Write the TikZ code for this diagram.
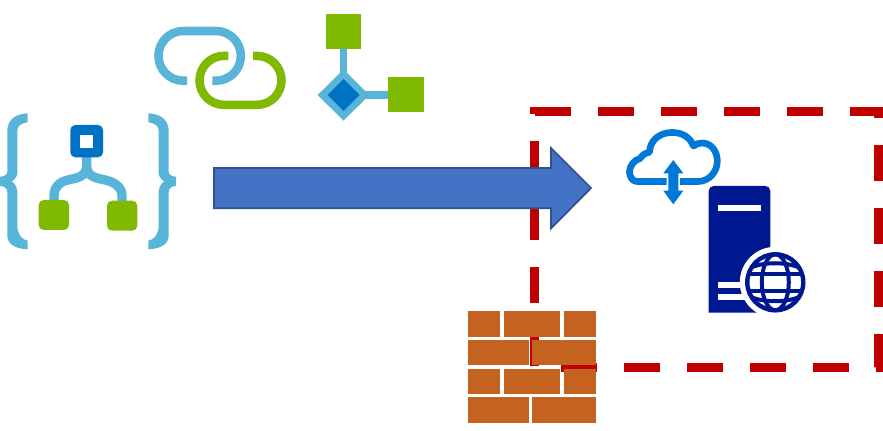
\documentclass[tikz,border=0pt]{standalone}
\usetikzlibrary{arrows.meta}
\definecolor{skyblue}{HTML}{59B4D9}
\definecolor{leaf}{HTML}{7FBA00}
\definecolor{azure}{HTML}{0072C6}
\definecolor{cloudblue}{HTML}{0078D7}
\definecolor{navy}{HTML}{00188F}
\definecolor{brick}{HTML}{C46320}
\definecolor{framered}{HTML}{C00000}
\definecolor{arrowfill}{HTML}{4472C4}
\definecolor{arrowline}{HTML}{2F528F}
\tikzset{
  px/.style={x=0.75pt,y=-0.75pt},
  framedash/.style={draw=framered,line width=6.75pt,dash pattern=on 27pt off 20.25pt,line join=miter},
  bracefill/.style={fill=skyblue},
  linkstroke/.style={line width=6.4pt},
  wire/.style={draw=skyblue,line width=5.4pt},
  brickfill/.style={fill=brick},
  cloudstroke/.style={draw=cloudblue,line width=5pt,line join=round},
  globestroke/.style={draw=navy,line width=3pt}
}
\newcommand{\bracepath}{(27.7,113.3) .. controls (16.7,114) and (8.3,118) .. (7.3,130) -- (7.3,171.7)
  .. controls (7,175) and (4,176.7) .. (0,176.7) -- (0,186) .. controls (4,186) and (7,188) .. (7.3,191.7) -- (7.3,236.7)
  .. controls (8.3,245) and (16.7,248.8) .. (27.7,249.3) -- (27.7,240.7)
  .. controls (21.7,239.5) and (18,235) .. (17.3,226.7) -- (17.3,191.7)
  .. controls (17,186) and (14,183) .. (11.7,181.3) .. controls (14,180) and (17,177.5) .. (17.3,173.3) -- (17.3,130)
  .. controls (18,125.5) and (21.7,122.8) .. (27.7,122.3) -- cycle}
\begin{document}
\begin{tikzpicture}[px]
\useasboundingbox (0,0) rectangle (883,431);
\fill[white] (0,0) rectangle (883,431);
% dashed frame
\draw[framedash] (534.5,111.5) -- (878.5,111.5) -- (878.5,367.5) -- (534.5,367.5) -- cycle;
\fill[framered] (530,107) rectangle (536,114.5);
% braces
\fill[bracefill] \bracepath;
\begin{scope}[xshift=132pt,xscale=-1]
\fill[bracefill] \bracepath;
\end{scope}
% tree icon
\draw[wire,line width=7pt] (86.7,157) -- (86.7,166) .. controls (86.7,177) and (76,178) .. (70,179.5) .. controls (62,181) and (54,185) .. (54,196) -- (54,204);
\draw[wire,line width=7pt] (86.7,166) .. controls (86.7,177) and (97,178) .. (103,179.5) .. controls (111,181) and (122,185) .. (122,196) -- (122,204);
\fill[azure,rounded corners=3.75pt] (70.3,125) rectangle (103,157.3);
\fill[white] (80.3,135) rectangle (93.3,148);
\fill[leaf,rounded corners=3.75pt] (38.7,200) rectangle (69,230);
\fill[leaf,rounded corners=3.75pt] (107,200.7) rectangle (137.3,230.7);
% link icon
\draw[skyblue,linkstroke] (187,80.7) -- (183.3,80.7) .. controls (169.6,80.7) and (158.45,69.55) .. (158.45,55.85) .. controls (158.45,42.15) and (169.6,31) .. (183.3,31) -- (216,31) .. controls (229.7,31) and (240.85,42.15) .. (240.85,55.85) .. controls (240.85,69.55) and (229.7,80.7) .. (216,80.7) -- (212.3,80.7);
\draw[leaf,linkstroke] (228.3,55.85) -- (224,55.85) .. controls (210.5,55.85) and (199.5,66.85) .. (199.5,80.35) .. controls (199.5,93.85) and (210.5,104.85) .. (224,104.85) -- (257,104.85) .. controls (270.5,104.85) and (281.5,93.85) .. (281.5,80.35) .. controls (281.5,66.85) and (270.5,55.85) .. (257,55.85) -- (253,55.85);
% flow icon
\draw[wire] (343.5,45) -- (343.5,95) -- (392,95);
\fill[skyblue] (343.5,69.5) -- (369.3,95) -- (343.5,120.7) -- (317.7,95) -- cycle;
\fill[azure] (343.5,79) -- (359.5,95) -- (343.5,111) -- (327.5,95) -- cycle;
\fill[leaf] (325.7,14) rectangle (361,49.3);
\fill[leaf] (388.3,77) rectangle (424,112.3);
% bricks
\foreach \ya/\yb in {311/336.7,368.7/394}{
  \fill[brickfill] (468,\ya) rectangle (500,\yb);
  \fill[brickfill] (503.7,\ya) rectangle (560.3,\yb);
  \fill[brickfill] (564,\ya) rectangle (595.7,\yb);
}
\foreach \ya/\yb in {340/365.3,397.3/422.7}{
  \fill[brickfill] (468,\ya) rectangle (528.5,\yb);
  \fill[brickfill] (532,\ya) rectangle (595.7,\yb);
}
% big arrow
\draw[fill=arrowfill,draw=arrowline,line width=1.3pt,line join=miter]
  (214,168) -- (551,168) -- (551,148) -- (591,188) -- (551,228.5) -- (551,208.3) -- (214,208.3) -- cycle;
% cloud
\draw[cloudstroke] (666.7,181.5) -- (637,181.5) .. controls (632,181.5) and (629.5,176) .. (629.5,172)
  .. controls (629.5,166) and (634,160) .. (640,158.5) .. controls (643,154) and (646,153) .. (649.5,152)
  .. controls (650,140) and (660,132.5) .. (672,132.5) .. controls (682,132.5) and (690,137) .. (693.5,146)
  .. controls (696,144) and (699,143) .. (702,143) .. controls (711,143) and (717.3,151) .. (717.3,161)
  .. controls (717.3,172) and (709,181.5) .. (698,181.5) -- (680,181.5);
\fill[cloudblue] (673.3,160) -- (683.3,173.3) -- (678.3,173.3) -- (678.3,190.7) -- (683.3,190.7) -- (673.3,204.3)
  -- (663.3,190.7) -- (668.3,190.7) -- (668.3,173.3) -- (663.3,173.3) -- cycle;
% server
\fill[navy] (708.7,312.7) -- (708.7,191) .. controls (708.7,188) and (711,186) .. (713.7,186) -- (765.3,186) .. controls (768,186) and (770.3,188) .. (770.3,191) -- (770.3,312.7) -- cycle;
\fill[white] (718,204.7) rectangle (761.3,210.7);
\fill[white] (718,282) rectangle (750,288.3);
\fill[white] (718,294.3) rectangle (750,300.3);
\fill[white] (775.3,282.3) circle[radius=35.5];
% globe
\draw[globestroke,line width=3.3pt] (775.3,282.3) circle[radius=28];
\draw[globestroke] (775.3,282.3) ellipse[x radius=13.5,y radius=28];
\draw[globestroke] (749,274) -- (801.5,274);
\draw[globestroke] (749,291) -- (801.5,291);
\draw[globestroke] (752,267) .. controls (765,262) and (785,262) .. (798,267);
\draw[globestroke] (752,297.5) .. controls (765,302.5) and (785,302.5) .. (798,297.5);
\end{tikzpicture}
\end{document}
